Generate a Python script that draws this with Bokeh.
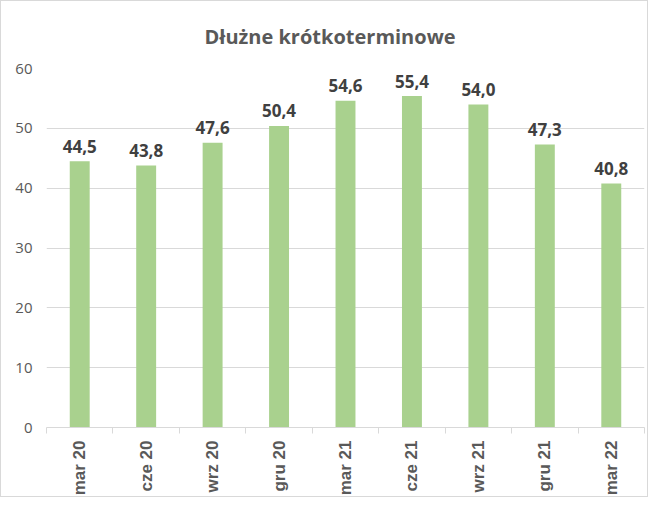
import math
from bokeh.plotting import figure
from bokeh.models import ColumnDataSource, Range1d, FixedTicker
from bokeh.embed import file_html
from bokeh.resources import INLINE
from bokeh.core.properties import value

categories = ["mar 20", "cze 20", "wrz 20", "gru 20", "mar 21", "cze 21", "wrz 21", "gru 21", "mar 22"]
values = [44.5, 43.8, 47.6, 50.4, 54.6, 55.4, 54.0, 47.3, 40.8]
y_ticks = [0, 10, 20, 30, 40, 50, 60]
title_text = "Dłużne krótkoterminowe"

xs = [i + 0.5 for i in range(len(categories))]
labels = [f"{v:.1f}".replace(".", ",") for v in values]
src = ColumnDataSource(dict(x=xs, top=values, label=labels))

p = figure(width=648, height=497, output_backend="svg", toolbar_location=None,
           x_range=Range1d(0, len(categories)), y_range=Range1d(y_ticks[0], y_ticks[-1]),
           min_border_left=45, min_border_right=5, min_border_top=67, min_border_bottom=70)
p.styles = {"border": "1px solid #D9D9D9"}
p.outline_line_color = None
p.background_fill_color = "white"
p.border_fill_color = "white"

p.vbar(x="x", top="top", bottom=0, width=0.30, source=src,
       fill_color="#A9D18E", line_color=None)
p.text(x="x", y="top", text="label", source=src, text_align="center",
       text_baseline="alphabetic", y_offset=-15, text_font=value("Open Sans"),
       text_font_style="bold", text_font_size="17px", text_color="#404040")

p.title.text = title_text
p.title.align = "left"
p.title.offset = 158
p.title.standoff = 37
p.title.text_font = "Open Sans"
p.title.text_font_style = "bold"
p.title.text_font_size = "20px"
p.title.text_color = "#595959"

p.xgrid.visible = False
p.ygrid.grid_line_color = "#D9D9D9"
p.yaxis.ticker = FixedTicker(ticks=y_ticks)
p.yaxis.axis_line_color = None
p.yaxis.major_tick_line_color = None
p.yaxis.minor_tick_line_color = None
p.yaxis.major_tick_out = 0
p.yaxis.major_label_standoff = 14
p.yaxis.major_label_text_font = "Open Sans"
p.yaxis.major_label_text_font_size = "15px"
p.yaxis.major_label_text_color = "#595959"

p.xaxis.ticker = FixedTicker(ticks=xs, minor_ticks=list(range(len(categories) + 1)))
p.xaxis.major_label_overrides = {x: c for x, c in zip(xs, categories)}
p.xaxis.major_label_orientation = math.pi / 2
p.xaxis.axis_line_color = "#D9D9D9"
p.xaxis.major_tick_line_color = None
p.xaxis.major_tick_out = 0
p.xaxis.major_tick_in = 0
p.xaxis.minor_tick_line_color = "#D9D9D9"
p.xaxis.minor_tick_out = 6
p.xaxis.minor_tick_in = 0
p.xaxis.major_label_standoff = 7
p.xaxis.major_label_text_font = "Liberation Sans"
p.xaxis.major_label_text_font_style = "bold"
p.xaxis.major_label_text_font_size = "17px"
p.xaxis.major_label_text_color = "#595959"

open("out.html", "w").write(file_html(p, INLINE))
